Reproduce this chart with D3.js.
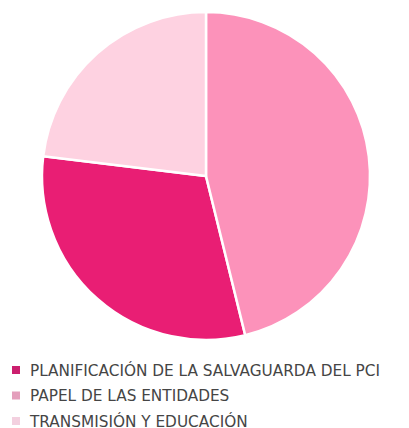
<!DOCTYPE html>
<html>
<head>
<meta charset="utf-8">
<script src="https://d3js.org/d3.v7.min.js"></script>
<style>
  body { margin: 0; background: #fff; }
  text { font-family: "DejaVu Sans", sans-serif; }
</style>
</head>
<body>
<script>
// datos
var categorias = ['PLANIFICACIÓN DE LA SALVAGUARDA DEL PCI', 'PAPEL DE LAS ENTIDADES', 'TRANSMISIÓN Y EDUCACIÓN'];
var valores = [4, 6, 3];
var colores = ['#e91e74', '#fc92ba', '#fed2e1'];
var coloresLeyenda = ['#cb1f6e', '#e49fbc', '#f3d0df'];

var width = 409, height = 428;
var cx = 206, cy = 176, r = 164;

var svg = d3.select('body').append('svg')
  .attr('width', width)
  .attr('height', height);

var datos = categorias.map(function(c, i) { return {nombre: c, valor: valores[i], i: i}; });

var pie = d3.pie().value(function(d) { return d.valor; });
var arc = d3.arc().innerRadius(0).outerRadius(r);

svg.append('g')
  .attr('transform', 'translate(' + cx + ',' + cy + ')')
  .selectAll('path')
  .data(pie(datos))
  .enter().append('path')
  .attr('d', arc)
  .attr('fill', function(d) { return colores[d.data.i]; })
  .attr('stroke', '#fff')
  .attr('stroke-width', 2.5);

var leyenda = svg.append('g').attr('transform', 'translate(12,370)');
var fila = leyenda.selectAll('g')
  .data(datos)
  .enter().append('g')
  .attr('transform', function(d, i) { return 'translate(0,' + (i * 25.5) + ')'; });

fila.append('rect')
  .attr('x', 0).attr('y', -4)
  .attr('width', 8).attr('height', 8)
  .attr('fill', function(d) { return coloresLeyenda[d.i]; });

fila.append('text')
  .attr('x', 18)
  .attr('y', 0)
  .attr('dy', '0.36em')
  .attr('font-size', 15.3)
  .attr('fill', '#454545')
  .text(function(d) { return d.nombre; });
</script>
</body>
</html>
